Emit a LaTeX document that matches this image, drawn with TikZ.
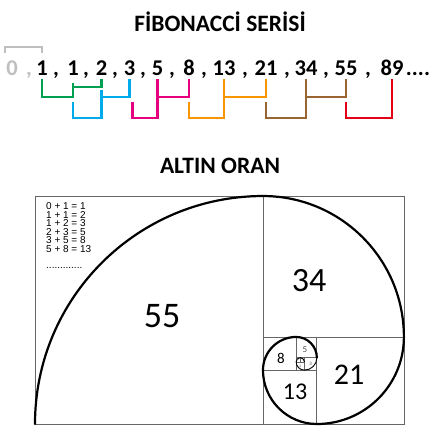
\documentclass[tikz,border=0pt]{standalone}
\usepackage{fontspec}
\setmainfont{Carlito}
\newfontfamily\eqfont{Liberation Sans}
\usetikzlibrary{calc}
\definecolor{fibgrey}{RGB}{191,191,191}
\definecolor{fibgreen}{RGB}{0,160,80}
\definecolor{fibblue}{RGB}{0,170,235}
\definecolor{fibmagenta}{RGB}{230,0,126}
\definecolor{fiborange}{RGB}{247,150,0}
\definecolor{fibbrown}{RGB}{153,102,51}
\definecolor{fibred}{RGB}{230,0,20}
\newcommand{\fsz}[1]{\fontsize{#1}{#1}\selectfont}

\begin{document}
\begin{tikzpicture}[x=1pt, y=1pt,
  num/.style={anchor=base, inner xsep=1pt, inner ysep=3pt, font=\fsz{22.5}\bfseries},
  comma/.style={anchor=base, inner sep=0pt, font=\fsz{22.5}\bfseries},
  heading/.style={anchor=base, inner sep=0pt, font=\fsz{23.5}\bfseries},
  link/.style={line width=2.8pt},
  sq/.style={draw=black!60, line width=0.8pt},
  spiral/.style={line width=2.2pt, line cap=round},
  sqlabel/.style={anchor=base, inner sep=0pt}]
  \useasboundingbox (0,0) rectangle (440,440);

  \node[heading] (title) at (220,408) {FİBONACCİ SERİSİ};

  \node[num, text=fibgrey] (n0) at (12,364) {0};
  \node[num] (n1a) at (42,364) {1};
  \node[num] (n1b) at (73,364) {1};
  \node[num] (n2) at (101.5,364) {2};
  \node[num] (n3) at (129.5,364) {3};
  \node[num] (n5) at (157.5,364) {5};
  \node[num] (n8) at (189,364) {8};
  \node[num] (n13) at (224,364) {13};
  \node[num] (n21) at (266,364) {21};
  \node[num] (n34) at (306,364) {34};
  \node[num] (n55) at (346,364) {55};
  \node[num] (n89) at (392,364) {89};
  \node[num] (more) at (418,364) {....};
  \node[comma, text=fibgrey] (c0) at (29,364) {,};
  \foreach \cx [count=\ci] in {56,86,115,143,172,204,245,287,326,368}
    \node[comma] (c\ci) at (\cx,364) {,};

  \coordinate (lvT) at (0,393);
  \coordinate (lvG) at (0,357);
  \coordinate (lvB) at (0,353);
  \coordinate (lvE) at (0,350);
  \coordinate (lvA) at (0,343);
  \coordinate (lvD) at (0,338);
  \coordinate (lvC) at (0,322);

  \draw[line width=2pt, fibgrey] ([yshift=5pt]n0.north west) |- (n1a |- lvT) -- ([yshift=5pt]n1a.north);
  \draw[link, fibgreen] (n1a.south) |- (n1b |- lvA) -- (n1b |- lvG);
  \draw[link, fibgreen] (n1b |- lvB) -| (n2.south);
  \draw[link, fibblue] (n1b |- lvD) |- (n2 |- lvC) -- (n2 |- lvE);
  \draw[link, fibblue] (n2 |- lvA) -| (n3.south);
  \draw[link, fibmagenta] ([xshift=3pt]n3 |- lvD) |- (n5 |- lvC) -- (n5.south);
  \draw[link, fibmagenta] (n5 |- lvA) -| (n8.south);
  \draw[link, fiborange] (n8 |- lvD) |- (n13 |- lvC) -- (n13.south);
  \draw[link, fiborange] (n13 |- lvA) -| (n21.south);
  \draw[link, fibbrown] (n21 |- lvD) |- (n34 |- lvC) -- (n34.south);
  \draw[link, fibbrown] (n34 |- lvA) -| (n55.south);
  \draw[link, fibred] (n55 |- lvD) |- (n89 |- lvC) -- (n89.south);

  \node[heading] (golden) at (220,266) {ALTIN ORAN};

  \begin{scope}[shift={(35,16)}, x=4.145pt, y=4.145pt]
    \draw[sq] (0,0) rectangle (89,55);
    \draw[sq] (55,0) -- (55,55);
    \draw[sq] (55,21) -- (89,21);
    \draw[sq] (68,0) -- (68,21);
    \draw[sq] (55,13) -- (68,13);
    \draw[sq] (63,13) -- (63,21);
    \draw[sq] (63,16) -- (68,16);
    \draw[sq, line width=0.5pt] (65,13) -- (65,16);
    \draw[sq, line width=0.5pt] (63,15) -- (65,15);
    \draw[sq, line width=0.5pt] (64,15) -- (64,16);
    \draw[spiral] (0,0) arc[start angle=180, end angle=90, radius=55]
      arc[start angle=90, end angle=0, radius=34]
      arc[start angle=0, end angle=-90, radius=21]
      arc[start angle=-90, end angle=-180, radius=13]
      arc[start angle=180, end angle=90, radius=8]
      arc[start angle=90, end angle=0, radius=5];
    \draw[spiral, line width=0.9pt] (68,16) arc[start angle=0, end angle=-90, radius=3]
      arc[start angle=-90, end angle=-180, radius=2]
      arc[start angle=180, end angle=90, radius=1]
      arc[start angle=90, end angle=0, radius=1];
  \end{scope}

  \node[sqlabel, font=\fsz{36}] (l55) at (162,112) {55};
  \node[sqlabel, font=\fsz{34}] (l34) at (309,148) {34};
  \node[sqlabel, font=\fsz{30}] (l21) at (349,56) {21};
  \node[sqlabel, font=\fsz{24}] (l13) at (295,40) {13};
  \node[sqlabel, font=\fsz{15}] (l8) at (281,77) {8};
  \node[sqlabel, font=\fsz{9}, text=black!70] (l5) at (305,87) {5};
  \node[sqlabel, font=\fsz{5}, text=black!70] (l3) at (310.6,74.6) {3};
  \node[sqlabel, font=\fsz{3.5}, text=black!70] (l2) at (300.3,72.8) {2};
  \node[sqlabel, font=\fsz{2.5}, text=black!70] (l1a) at (298.2,79.4) {1};
  \node[sqlabel, font=\fsz{2.5}, text=black!70] (l1b) at (302.4,79.4) {1};

  \node[anchor=north west, align=left, inner sep=0pt, font=\eqfont\fontsize{10}{8.6}\selectfont] (sums) at (46,237.6)
    {0 + 1 = 1\\1 + 1 = 2\\1 + 2 = 3\\2 + 3 = 5\\3 + 5 = 8\\5 + 8 = 13};
  \node[anchor=base west, inner sep=0pt, font=\eqfont\fsz{10}] (etc) at (46,171) {.............};
\end{tikzpicture}
\end{document}
